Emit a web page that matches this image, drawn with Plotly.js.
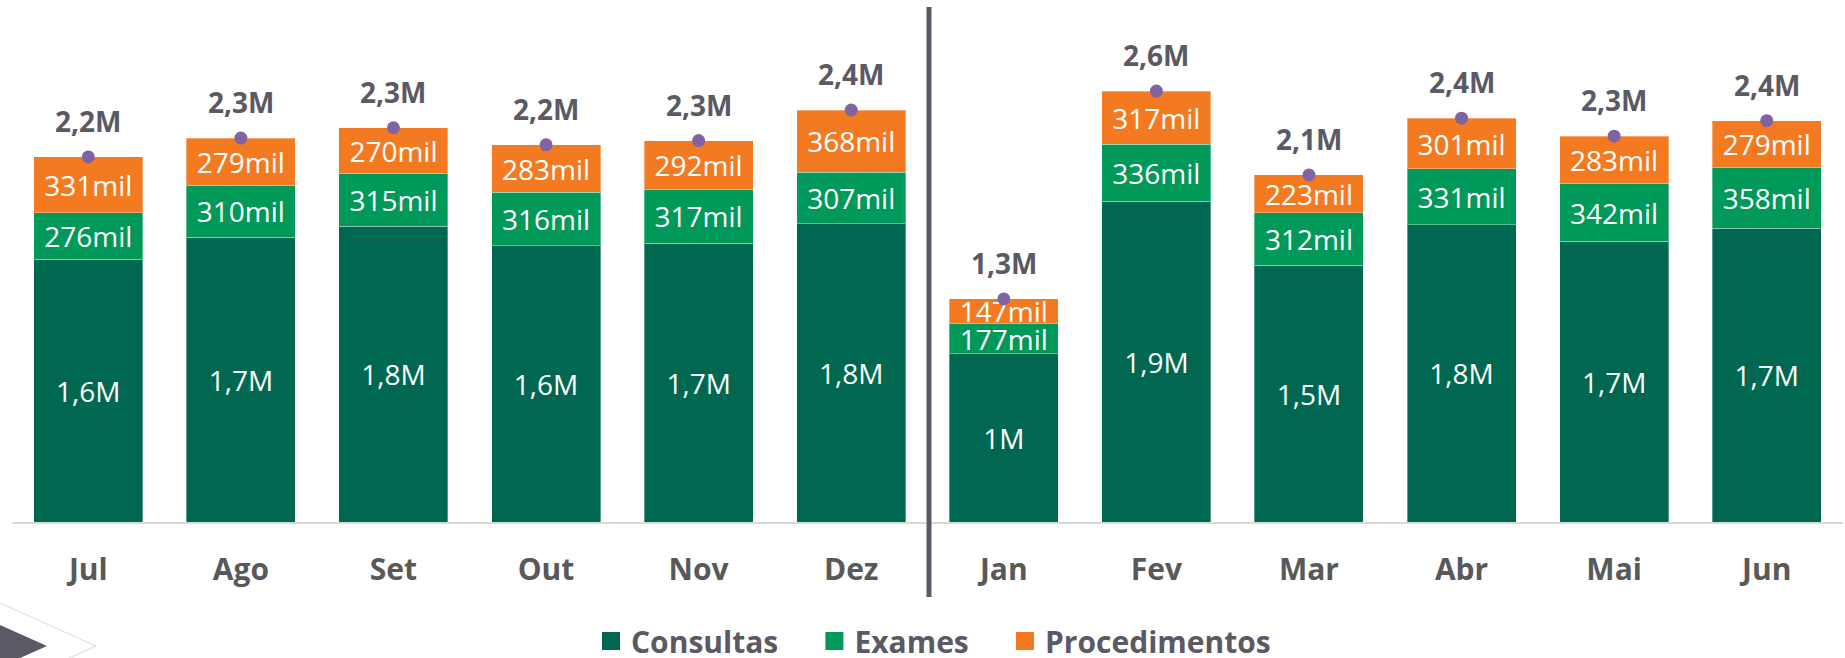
<!DOCTYPE html>
<html>
<head>
<meta charset="utf-8">
<script src="https://cdn.plot.ly/plotly-3.0.1.min.js"></script>
<style>html,body{margin:0;padding:0;background:#fff;}#chart{width:1845px;height:658px;}</style>
</head>
<body>
<div id="chart"></div>
<script>
const months = ['Jul','Ago','Set','Out','Nov','Dez','Jan','Fev','Mar','Abr','Mai','Jun'];
const consultas = [1560000,1690000,1755000,1640000,1655000,1770000,1000000,1905000,1525000,1765000,1665000,1745000];
const exames = [276000,310000,315000,316000,317000,307000,177000,336000,312000,331000,342000,358000];
const procedimentos = [331000,279000,270000,283000,292000,368000,147000,317000,223000,301000,283000,279000];
const seriesNames = ['Consultas','Exames','Procedimentos'];

const colors = ['#006850','#00995A','#F47A22'];
const FONT = 'Open Sans, sans-serif';
const PAD = '\u00a0\u00a0\u00a0\u00a0';

function fmtM(v){ return (v/1e6).toFixed(1).replace('.', ',').replace(/,0$/, '') + 'M'; }
function fmtK(v){ return Math.round(v/1000) + 'mil'; }

const totals = months.map((m,i)=>consultas[i]+exames[i]+procedimentos[i]);

function barTrace(idx, vals, fmt){
  return {
    type:'bar', name:seriesNames[idx], x:months, y:vals, showlegend:false,
    legendgroup:seriesNames[idx],
    marker:{color:colors[idx], line:{color:'rgba(255,255,255,0.35)', width:1}},
    text: vals.map(fmt), textposition:'inside', insidetextanchor:'middle',
    textangle:0, constraintext:'none',
    insidetextfont:{family:FONT, size:28, color:'#ffffff'},
    hoverinfo:'skip'
  };
}
function legendTrace(idx){
  return {
    type:'scatter', mode:'markers', name:seriesNames[idx] + (idx < 2 ? PAD : ''),
    legendgroup:seriesNames[idx], x:[null], y:[null],
    marker:{symbol:'square', color:colors[idx], size:16, line:{color:colors[idx], width:2}},
    hoverinfo:'skip'
  };
}

const data = [
  barTrace(0, consultas, fmtM),
  barTrace(1, exames, fmtK),
  barTrace(2, procedimentos, fmtK),
  {type:'scatter', mode:'markers', x:months, y:totals, showlegend:false,
   marker:{color:'#8064A2', size:13}, cliponaxis:false, hoverinfo:'skip'},
  legendTrace(0), legendTrace(1), legendTrace(2)
];

const annotations = months.map((m,i)=>({
  x:m, y:totals[i], xref:'x', yref:'y', text:fmtM(totals[i]), showarrow:false,
  yshift:36, font:{family:FONT, size:28, weight:'bold', color:'#5A5964'}
}));

const px = (X)=> (X-12)/1831;
const py = (Y)=> (522-Y)/512;
const shapes = [
  {type:'line', xref:'paper', yref:'paper', x0:px(929), x1:px(929), y0:py(7), y1:py(597),
   line:{color:'#5B5A64', width:5}},
  {type:'path', xref:'paper', yref:'paper',
   path:`M${px(0)},${py(603)} L${px(96)},${py(646)} L${px(0)},${py(689)}`,
   line:{color:'#D9D9D9', width:1}, fillcolor:'rgba(0,0,0,0)'},
  {type:'path', xref:'paper', yref:'paper',
   path:`M${px(0)},${py(625)} L${px(47)},${py(646)} L${px(0)},${py(667)} Z`,
   line:{width:0}, fillcolor:'#5B5A64'}
];

const layout = {
  width:1845, height:658,
  margin:{l:12, r:2, t:10, b:136, autoexpand:false},
  paper_bgcolor:'#ffffff', plot_bgcolor:'#ffffff',
  barmode:'stack', bargap:0.286,
  showlegend:true,
  legend:{orientation:'h', xref:'container', x:591/1845, xanchor:'left',
    yref:'container', y:(658-641)/658, yanchor:'middle',
    font:{family:FONT, size:30, weight:'bold', color:'#5A5964'},
    traceorder:'normal', itemclick:false, itemdoubleclick:false},
  xaxis:{type:'category', range:[-0.5,11.5], showline:true, linecolor:'#D9D9D9', linewidth:2,
    ticks:'', showgrid:false, zeroline:false, ticklabelstandoff:20, automargin:false,
    tickfont:{family:FONT, size:30, weight:'bold', color:'#595959'}, fixedrange:true},
  yaxis:{range:[0,3039000], visible:false, showgrid:false, zeroline:false, fixedrange:true, automargin:false},
  annotations:annotations,
  shapes:shapes,
  hovermode:false
};

Plotly.newPlot('chart', data, layout, {displayModeBar:false, staticPlot:true});
</script>
</body>
</html>
